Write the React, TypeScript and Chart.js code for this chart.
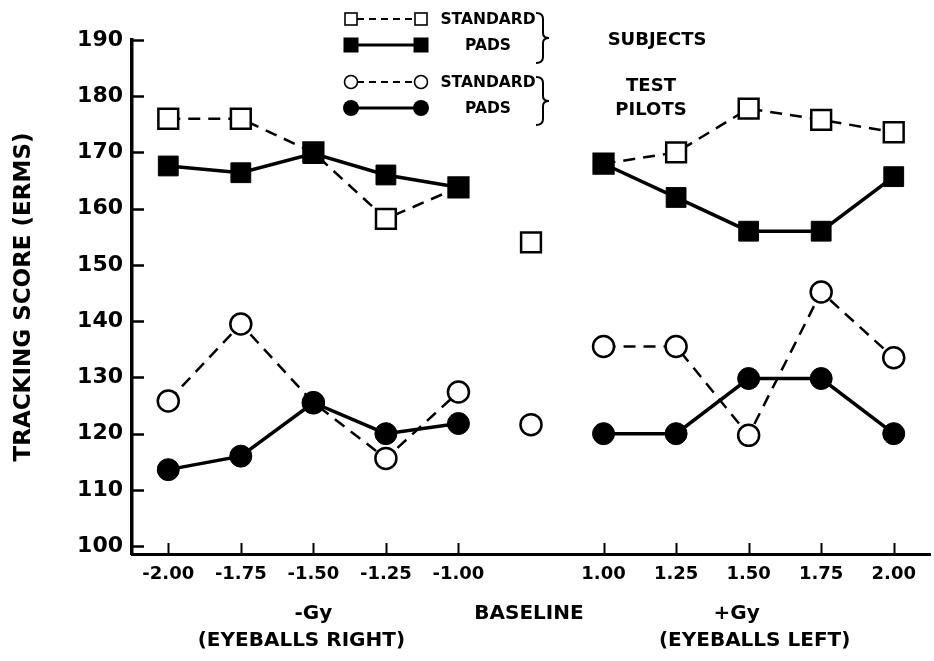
import React, { useEffect, useRef } from 'react';
import { Chart, registerables } from 'chart.js';

Chart.register(...registerables);

// ---- data ----
const categories = ['-2.00', '-1.75', '-1.50', '-1.25', '-1.00', '', '1.00', '1.25', '1.50', '1.75', '2.00'];
const subjectsStandard = [176, 176, 170, 158.2, 163.8, null, 168, 170, 177.8, 175.8, 173.6];
const subjectsPads = [167.6, 166.4, 169.8, 166, 163.8, null, 168, 162, 156, 156, 165.7];
const pilotsStandard = [125.8, 139.5, 125.5, 115.6, 127.4, null, 135.5, 135.5, 119.7, 145.2, 133.5];
const pilotsPads = [113.6, 116, 125.5, 120, 121.8, null, 120, 120, 129.8, 129.8, 120];
const baselineIndex = 5;
const baselineSubjects = 154;
const baselinePilots = 121.6;
const yTicks = [100, 110, 120, 130, 140, 150, 160, 170, 180, 190];

const FONT = '"DejaVu Sans", sans-serif';

const onlyAt = (idx: number, v: number) => categories.map((_, i) => (i === idx ? v : null));

const decorPlugin = {
  id: 'decor',
  afterDraw(chart: any) {
    const { ctx, chartArea, scales } = chart;
    const xs = scales.x;
    const ys = scales.y;
    ctx.save();
    ctx.strokeStyle = '#000';
    ctx.fillStyle = '#000';
    // inward tick marks
    ctx.lineWidth = 2.5;
    yTicks.forEach((v) => {
      const y = Math.round(ys.getPixelForValue(v)) + 0.5;
      ctx.beginPath();
      ctx.moveTo(chartArea.left, y);
      ctx.lineTo(chartArea.left + 12, y);
      ctx.stroke();
    });
    ctx.lineWidth = 2;
    categories.forEach((c, i) => {
      if (!c) return;
      const x = Math.round(xs.getPixelForValue(i)) + 0.5;
      ctx.beginPath();
      ctx.moveTo(x, chartArea.bottom);
      ctx.lineTo(x, chartArea.bottom - 11);
      ctx.stroke();
    });

    // group labels under the x axis
    ctx.font = `bold 20px ${FONT}`;
    ctx.textAlign = 'center';
    ctx.textBaseline = 'middle';
    const pNeg = xs.getPixelForValue(2);
    const pBase = xs.getPixelForValue(baselineIndex);
    const pPos = xs.getPixelForValue(8);
    ctx.fillText('-Gy', pNeg, 614);
    ctx.fillText('(EYEBALLS RIGHT)', pNeg - 12, 641);
    ctx.fillText('BASELINE', pBase - 2, 614);
    ctx.fillText('+Gy', pPos - 12, 614);
    ctx.fillText('(EYEBALLS LEFT)', pPos + 6, 641);

    // legend
    const rows = [19, 45, 82, 108];
    const x1 = 351;
    const x2 = 421;
    // row 1: open squares dashed
    ctx.lineWidth = 2;
    ctx.setLineDash([7, 5]);
    ctx.beginPath();
    ctx.moveTo(x1 + 6, rows[0]);
    ctx.lineTo(x2 - 6, rows[0]);
    ctx.stroke();
    ctx.setLineDash([]);
    ctx.lineWidth = 1.6;
    [x1, x2].forEach((x) => {
      ctx.fillStyle = '#fff';
      ctx.fillRect(x - 6, rows[0] - 6, 12, 12);
      ctx.strokeRect(x - 6, rows[0] - 6, 12, 12);
    });
    ctx.fillStyle = '#000';
    // row 2: filled squares solid
    ctx.lineWidth = 3;
    ctx.beginPath();
    ctx.moveTo(x1, rows[1]);
    ctx.lineTo(x2, rows[1]);
    ctx.stroke();
    [x1, x2].forEach((x) => {
      ctx.fillRect(x - 7.5, rows[1] - 7.5, 15, 15);
    });
    // row 3: open circles dashed
    ctx.lineWidth = 2;
    ctx.setLineDash([7, 5]);
    ctx.beginPath();
    ctx.moveTo(x1 + 6, rows[2]);
    ctx.lineTo(x2 - 6, rows[2]);
    ctx.stroke();
    ctx.setLineDash([]);
    ctx.lineWidth = 1.6;
    [x1, x2].forEach((x) => {
      ctx.beginPath();
      ctx.arc(x, rows[2], 6.5, 0, Math.PI * 2);
      ctx.fillStyle = '#fff';
      ctx.fill();
      ctx.stroke();
    });
    ctx.fillStyle = '#000';
    // row 4: filled circles solid
    ctx.lineWidth = 3;
    ctx.beginPath();
    ctx.moveTo(x1, rows[3]);
    ctx.lineTo(x2, rows[3]);
    ctx.stroke();
    [x1, x2].forEach((x) => {
      ctx.beginPath();
      ctx.arc(x, rows[3], 8, 0, Math.PI * 2);
      ctx.fill();
    });

    ctx.font = `bold 15.5px ${FONT}`;
    ctx.textAlign = 'center';
    ctx.fillText('STANDARD', 488, rows[0] + 1);
    ctx.fillText('PADS', 488, rows[1] + 1);
    ctx.fillText('STANDARD', 488, rows[2] + 1);
    ctx.fillText('PADS', 488, rows[3] + 1);

    // braces
    const brace = (top: number, bottom: number) => {
      const mid = (top + bottom) / 2;
      const bx = 543;
      ctx.beginPath();
      ctx.moveTo(bx - 7, top);
      ctx.quadraticCurveTo(bx, top, bx, top + 6);
      ctx.lineTo(bx, mid - 5);
      ctx.quadraticCurveTo(bx, mid, bx + 6, mid);
      ctx.quadraticCurveTo(bx, mid, bx, mid + 5);
      ctx.lineTo(bx, bottom - 6);
      ctx.quadraticCurveTo(bx, bottom, bx - 7, bottom);
      ctx.stroke();
    };
    ctx.lineWidth = 2;
    brace(13, 63);
    brace(77, 125);

    ctx.font = `bold 18px ${FONT}`;
    ctx.fillText('SUBJECTS', 657, 40);
    ctx.fillText('TEST', 651, 86);
    ctx.fillText('PILOTS', 651, 110);
    ctx.restore();
  },
};

export default function App() {
  const canvasRef = useRef<HTMLCanvasElement | null>(null);

  useEffect(() => {
    const canvas = canvasRef.current;
    if (!canvas) return;
    const chart = new Chart(canvas, {
      type: 'line',
      data: {
        labels: categories,
        datasets: [
          {
            label: 'Subjects - pads',
            data: subjectsPads,
            borderColor: '#000',
            backgroundColor: '#000',
            borderWidth: 3.5,
            pointStyle: 'rect',
            pointRadius: 14,
            pointBorderWidth: 1,
            pointBackgroundColor: '#000',
            pointBorderColor: '#000',
            spanGaps: false,
            order: 0,
          },
          {
            label: 'Test pilots - pads',
            data: pilotsPads,
            borderColor: '#000',
            backgroundColor: '#000',
            borderWidth: 3.5,
            pointStyle: 'circle',
            pointRadius: 11,
            pointBorderWidth: 1,
            pointBackgroundColor: '#000',
            pointBorderColor: '#000',
            spanGaps: false,
            order: 0,
          },
          {
            label: 'Subjects - standard',
            data: subjectsStandard,
            borderColor: '#000',
            backgroundColor: '#fff',
            borderWidth: 2.5,
            borderDash: [12, 8],
            pointStyle: 'rect',
            pointRadius: 14,
            pointBorderWidth: 2.5,
            pointBackgroundColor: '#fff',
            pointBorderColor: '#000',
            spanGaps: false,
            order: 1,
          },
          {
            label: 'Test pilots - standard',
            data: pilotsStandard,
            borderColor: '#000',
            backgroundColor: '#fff',
            borderWidth: 2.5,
            borderDash: [12, 8],
            pointStyle: 'circle',
            pointRadius: 10.5,
            pointBorderWidth: 2.5,
            pointBackgroundColor: '#fff',
            pointBorderColor: '#000',
            spanGaps: false,
            order: 1,
          },
          {
            label: 'Subjects - baseline',
            data: onlyAt(baselineIndex, baselineSubjects),
            showLine: false,
            pointStyle: 'rect',
            pointRadius: 14,
            pointBorderWidth: 2.5,
            pointBackgroundColor: '#fff',
            pointBorderColor: '#000',
            order: 1,
          },
          {
            label: 'Test pilots - baseline',
            data: onlyAt(baselineIndex, baselinePilots),
            showLine: false,
            pointStyle: 'circle',
            pointRadius: 10.5,
            pointBorderWidth: 2.5,
            pointBackgroundColor: '#fff',
            pointBorderColor: '#000',
            order: 1,
          },
        ],
      },
      options: {
        responsive: false,
        animation: false,
        devicePixelRatio: 1,
        layout: { autoPadding: false, padding: { top: 40, right: 4, left: 0, bottom: 0 } },
        plugins: {
          legend: { display: false },
          tooltip: { enabled: false },
          title: { display: false },
        },
        scales: {
          x: {
            type: 'category',
            offset: true,
            grid: { display: false, drawTicks: false },
            border: { display: true, color: '#000', width: 3 },
            ticks: {
              font: { family: FONT, size: 18, weight: 'bold' },
              color: '#000',
              padding: 10,
              autoSkip: false,
              maxRotation: 0,
            },
            afterFit: (s: any) => {
              s.height = 107;
              s.paddingLeft = 0;
              s.paddingRight = 0;
            },
          },
          y: {
            type: 'linear',
            min: 98.6,
            max: 190,
            grid: { display: false, drawTicks: false },
            border: { display: true, color: '#000', width: 3.5 },
            afterBuildTicks: (s: any) => {
              s.ticks = yTicks.map((v) => ({ value: v }));
            },
            ticks: {
              font: { family: FONT, size: 22, weight: 'bold' },
              color: '#000',
              padding: 9,
            },
            title: {
              display: true,
              text: 'TRACKING SCORE (ERMS)',
              color: '#000',
              font: { family: FONT, size: 23, weight: 'bold' },
              padding: { top: 10, bottom: 0 },
            },
            afterFit: (s: any) => {
              s.width = 132;
            },
          },
        },
      },
      plugins: [decorPlugin],
    } as any);
    return () => chart.destroy();
  }, []);

  return (
    <div style={{ position: 'fixed', left: 0, top: 0, width: 934, height: 661, background: '#fff' }}>
      <canvas ref={canvasRef} width={934} height={661} style={{ display: 'block' }} />
    </div>
  );
}
